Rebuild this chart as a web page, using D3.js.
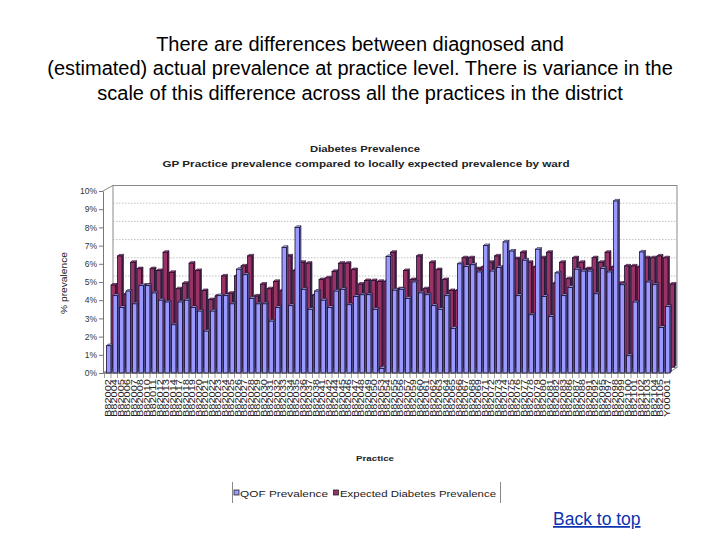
<!DOCTYPE html>
<html><head><meta charset="utf-8">
<script src="https://cdn.jsdelivr.net/npm/d3@7"></script>
<style>body{margin:0;background:#fff}svg{display:block}</style>
</head><body>
<svg id="c" width="720" height="540"></svg>
<script>
const practices = [
"B82002","B82004","B82005","B82006","B82007","B82008","B82010","B82011","B82012","B82013",
"B82014","B82017","B82018","B82019","B82020","B82021","B82022","B82023","B82024","B82025",
"B82026","B82027","B82028","B82029","B82030","B82031","B82032","B82033","B82034","B82035",
"B82036","B82037","B82038","B82041","B82042","B82044","B82045","B82046","B82047","B82048",
"B82049","B82050","B82053","B82054","B82055","B82056","B82057","B82059","B82060","B82061",
"B82062","B82063","B82064","B82065","B82066","B82067","B82068","B82069","B82071","B82072",
"B82073","B82074","B82075","B82076","B82077","B82078","B82079","B82080","B82081","B82082",
"B82083","B82086","B82087","B82088","B82091","B82092","B82095","B82097","B82098","B82099",
"B82100","B82101","B82102","B82103","B82104","B82105","Y00001"];

const qofPrevalence = [
1.5,4.25,3.6,4.5,3.8,4.8,4.8,4.4,4.0,3.9,
2.65,3.9,4.0,3.6,3.4,2.3,3.4,4.25,4.25,3.8,
5.7,5.4,4.1,3.8,3.8,2.85,3.6,6.9,3.7,8.0,
4.6,3.5,4.5,4.0,3.6,4.5,4.6,3.75,4.2,4.3,
4.3,3.5,0.25,6.4,4.55,4.6,4.1,5.0,4.4,4.3,
3.7,3.5,4.25,2.45,6.0,5.85,5.95,5.55,7.0,5.6,
5.8,7.2,6.7,4.25,6.2,3.2,6.8,4.2,3.1,5.5,
4.25,4.7,5.7,5.6,5.6,4.35,5.75,5.55,9.45,4.85,
0.95,3.9,6.65,5.0,4.85,2.5,3.65];

const expectedPrevalence = [
4.5,6.1,4.0,5.75,5.4,4.5,5.4,5.3,6.3,5.2,
4.3,4.6,5.7,5.3,4.2,3.7,3.9,5.0,4.05,5.0,
5.55,6.1,3.9,4.55,4.3,4.7,4.2,6.1,5.3,5.75,
5.7,3.95,4.8,4.9,5.25,5.7,5.7,5.35,4.55,4.75,
4.75,4.7,4.7,6.3,4.3,5.3,4.8,6.1,4.3,5.75,
5.35,4.8,4.2,4.2,6.0,6.0,5.4,5.5,5.75,6.1,
5.5,5.6,5.95,6.3,5.75,5.5,6.0,6.3,4.6,5.75,
4.85,6.0,5.75,5.4,6.0,5.75,6.3,5.5,4.6,5.55,
5.55,5.5,6.0,6.0,6.1,6.0,4.55];

const yTickValues = [0,1,2,3,4,5,6,7,8,9,10];
const seriesNames = ["QOF Prevalence","Expected Diabetes Prevalence"];
const seriesColors = ["#9999ff","#993366"];
const headingLines = [
"There are differences between diagnosed and",
"(estimated) actual prevalence at practice level. There is variance in the",
"scale of this difference across all the practices in the district"];
const chartTitle = "Diabetes Prevalence";
const chartSubtitle = "GP Practice prevalence compared to locally expected prevalence by ward";

const F = "'Liberation Sans', Arial, sans-serif";
const svg = d3.select("#c");

// heading
svg.selectAll("text.head").data(headingLines).join("text")
  .attr("class","head").attr("x",360).attr("y",(d,i)=>50.5+i*24.5)
  .attr("text-anchor","middle").attr("font-family",F).attr("font-size",20)
  .attr("fill","#000").text(d=>d);

// chart titles
svg.append("text").attr("x",365).attr("y",152).attr("text-anchor","middle")
  .attr("font-family",F).attr("font-weight","bold").attr("font-size",8.5)
  .attr("textLength",110).attr("lengthAdjust","spacingAndGlyphs").attr("fill","#222").text(chartTitle);
svg.append("text").attr("x",366).attr("y",167).attr("text-anchor","middle")
  .attr("font-family",F).attr("font-weight","bold").attr("font-size",8.5)
  .attr("textLength",407).attr("lengthAdjust","spacingAndGlyphs").attr("fill","#222").text(chartSubtitle);

// scales
const x = d3.scaleBand().domain(practices).range([104.5, 670]);
const y = d3.scaleLinear().domain([0,10]).range([373,191]);
const wall = {dx:10, dy:-5.5};
const back = {dx:4.5, dy:-6};
const frontLeft = 103, backLeft = frontLeft + wall.dx, backRight = 677;

// back wall & gridlines
const g = svg.append("g");
g.append("rect").attr("x",backLeft).attr("y",y(10)+wall.dy)
  .attr("width",backRight-backLeft).attr("height",y(0)-y(10))
  .attr("fill","#fff").attr("stroke","#8a8a8a").attr("stroke-width",1);
g.selectAll("line.grid").data(yTickValues.filter(v=>v>0&&v<10)).join("line")
  .attr("x1",backLeft).attr("x2",backRight)
  .attr("y1",d=>y(d)+back.dy).attr("y2",d=>y(d)+back.dy)
  .attr("stroke","#b0b0b0").attr("stroke-width",0.8).attr("stroke-dasharray","1.5,1.5");
g.append("line").attr("x1",frontLeft).attr("y1",y(10)).attr("x2",backLeft).attr("y2",y(10)+wall.dy)
  .attr("stroke","#8a8a8a");
g.append("line").attr("x1",frontLeft).attr("y1",y(0)).attr("x2",backLeft).attr("y2",y(0)+wall.dy)
  .attr("stroke","#8a8a8a");
const floorRight = backRight - wall.dx + 1;
g.append("polygon")
  .attr("points",[[frontLeft,y(0)],[floorRight,y(0)],[backRight,y(0)+wall.dy],[backLeft,y(0)+wall.dy]].join(" "))
  .attr("fill","#fff").attr("stroke","#8a8a8a");

// bars
function bar3d(sel, x0, w, yTop, yBase, color){
  const d = 1.6;
  const c = d3.color(color);
  sel.append("polygon").attr("points",[[x0+w,yTop],[x0+w+d,yTop-d],[x0+w+d,yBase-d],[x0+w,yBase]].join(" "))
    .attr("fill",c.darker(1.2)).attr("stroke","#1a1030").attr("stroke-width",0.6);
  sel.append("polygon").attr("points",[[x0,yTop],[x0+d,yTop-d],[x0+w+d,yTop-d],[x0+w,yTop]].join(" "))
    .attr("fill",c.brighter(0.5)).attr("stroke","#1a1030").attr("stroke-width",0.6);
  sel.append("rect").attr("x",x0).attr("y",yTop).attr("width",w).attr("height",Math.max(0,yBase-yTop))
    .attr("fill",color).attr("stroke","#1a1030").attr("stroke-width",0.8);
}
const bw = 4.4;
const redG = svg.append("g"), blueG = svg.append("g");
practices.forEach((p,i)=>{
  bar3d(redG, x(p)+2+back.dx, bw, y(expectedPrevalence[i])+back.dy, y(0)+back.dy, seriesColors[1]);
});
practices.forEach((p,i)=>{
  bar3d(blueG, x(p)+2, bw, y(qofPrevalence[i]), y(0), seriesColors[0]);
});

svg.append("line").attr("x1",frontLeft).attr("x2",floorRight).attr("y1",y(0)).attr("y2",y(0))
  .attr("stroke","#555").attr("stroke-width",0.8);

// y axis
const yAxis = svg.append("g").attr("transform",`translate(${frontLeft},0)`)
  .call(d3.axisLeft(y).tickValues(yTickValues).tickFormat(d=>d+"%").tickSize(4).tickSizeOuter(0).tickPadding(2));
yAxis.select(".domain").attr("stroke","#777");
yAxis.selectAll(".tick line").attr("stroke","#777");
yAxis.selectAll("text").attr("font-family",F).attr("font-size",8.5).attr("fill","#333");

svg.append("text").attr("transform","translate(67,283) rotate(-90)").attr("text-anchor","middle")
  .attr("font-family",F).attr("font-size",8.5).attr("textLength",62).attr("lengthAdjust","spacingAndGlyphs")
  .attr("fill","#222").text("% prevalence");

// x ticks and labels
svg.append("g").selectAll("line").data(practices).join("line")
  .attr("x1",d=>x(d)).attr("x2",d=>x(d)).attr("y1",y(0)).attr("y2",y(0)+5)
  .attr("stroke","#777").attr("stroke-width",0.7);
svg.append("g").selectAll("text").data(practices).join("text")
  .attr("transform",d=>`translate(${x(d)+x.bandwidth()/2+3.2},${y(0)+6}) rotate(-90)`)
  .attr("text-anchor","end").attr("font-family",F).attr("font-size",8.5).attr("fill","#222")
  .attr("textLength",38).attr("lengthAdjust","spacingAndGlyphs")
  .text(d=>d);

svg.append("text").attr("x",375).attr("y",461).attr("text-anchor","middle")
  .attr("font-family",F).attr("font-weight","bold").attr("font-size",8)
  .attr("textLength",38).attr("lengthAdjust","spacingAndGlyphs").attr("fill","#222").text("Practice");

// legend
const lg = svg.append("g");
lg.append("line").attr("x1",232.5).attr("x2",232.5).attr("y1",482).attr("y2",503).attr("stroke","#888");
lg.append("line").attr("x1",500.5).attr("x2",500.5).attr("y1",482).attr("y2",503).attr("stroke","#888");
const legendItems = [
  {sx:234, tx:240, len:88},
  {sx:333.5, tx:340, len:156}];
legendItems.forEach((it,i)=>{
  lg.append("rect").attr("x",it.sx).attr("y",490).attr("width",5).attr("height",5)
    .attr("fill",seriesColors[i]).attr("stroke","#222").attr("stroke-width",0.8);
  lg.append("text").attr("x",it.tx).attr("y",496.5).attr("font-family",F).attr("font-size",8.5)
    .attr("textLength",it.len).attr("lengthAdjust","spacingAndGlyphs").attr("fill","#222").text(seriesNames[i]);
});

// back to top link
const link = svg.append("a").attr("href","#");
link.append("text").attr("x",553).attr("y",525).attr("font-family",F).attr("font-size",17.5)
  .attr("fill","#0b33b0").attr("text-decoration","underline").text("Back to top");
</script>
</body></html>
